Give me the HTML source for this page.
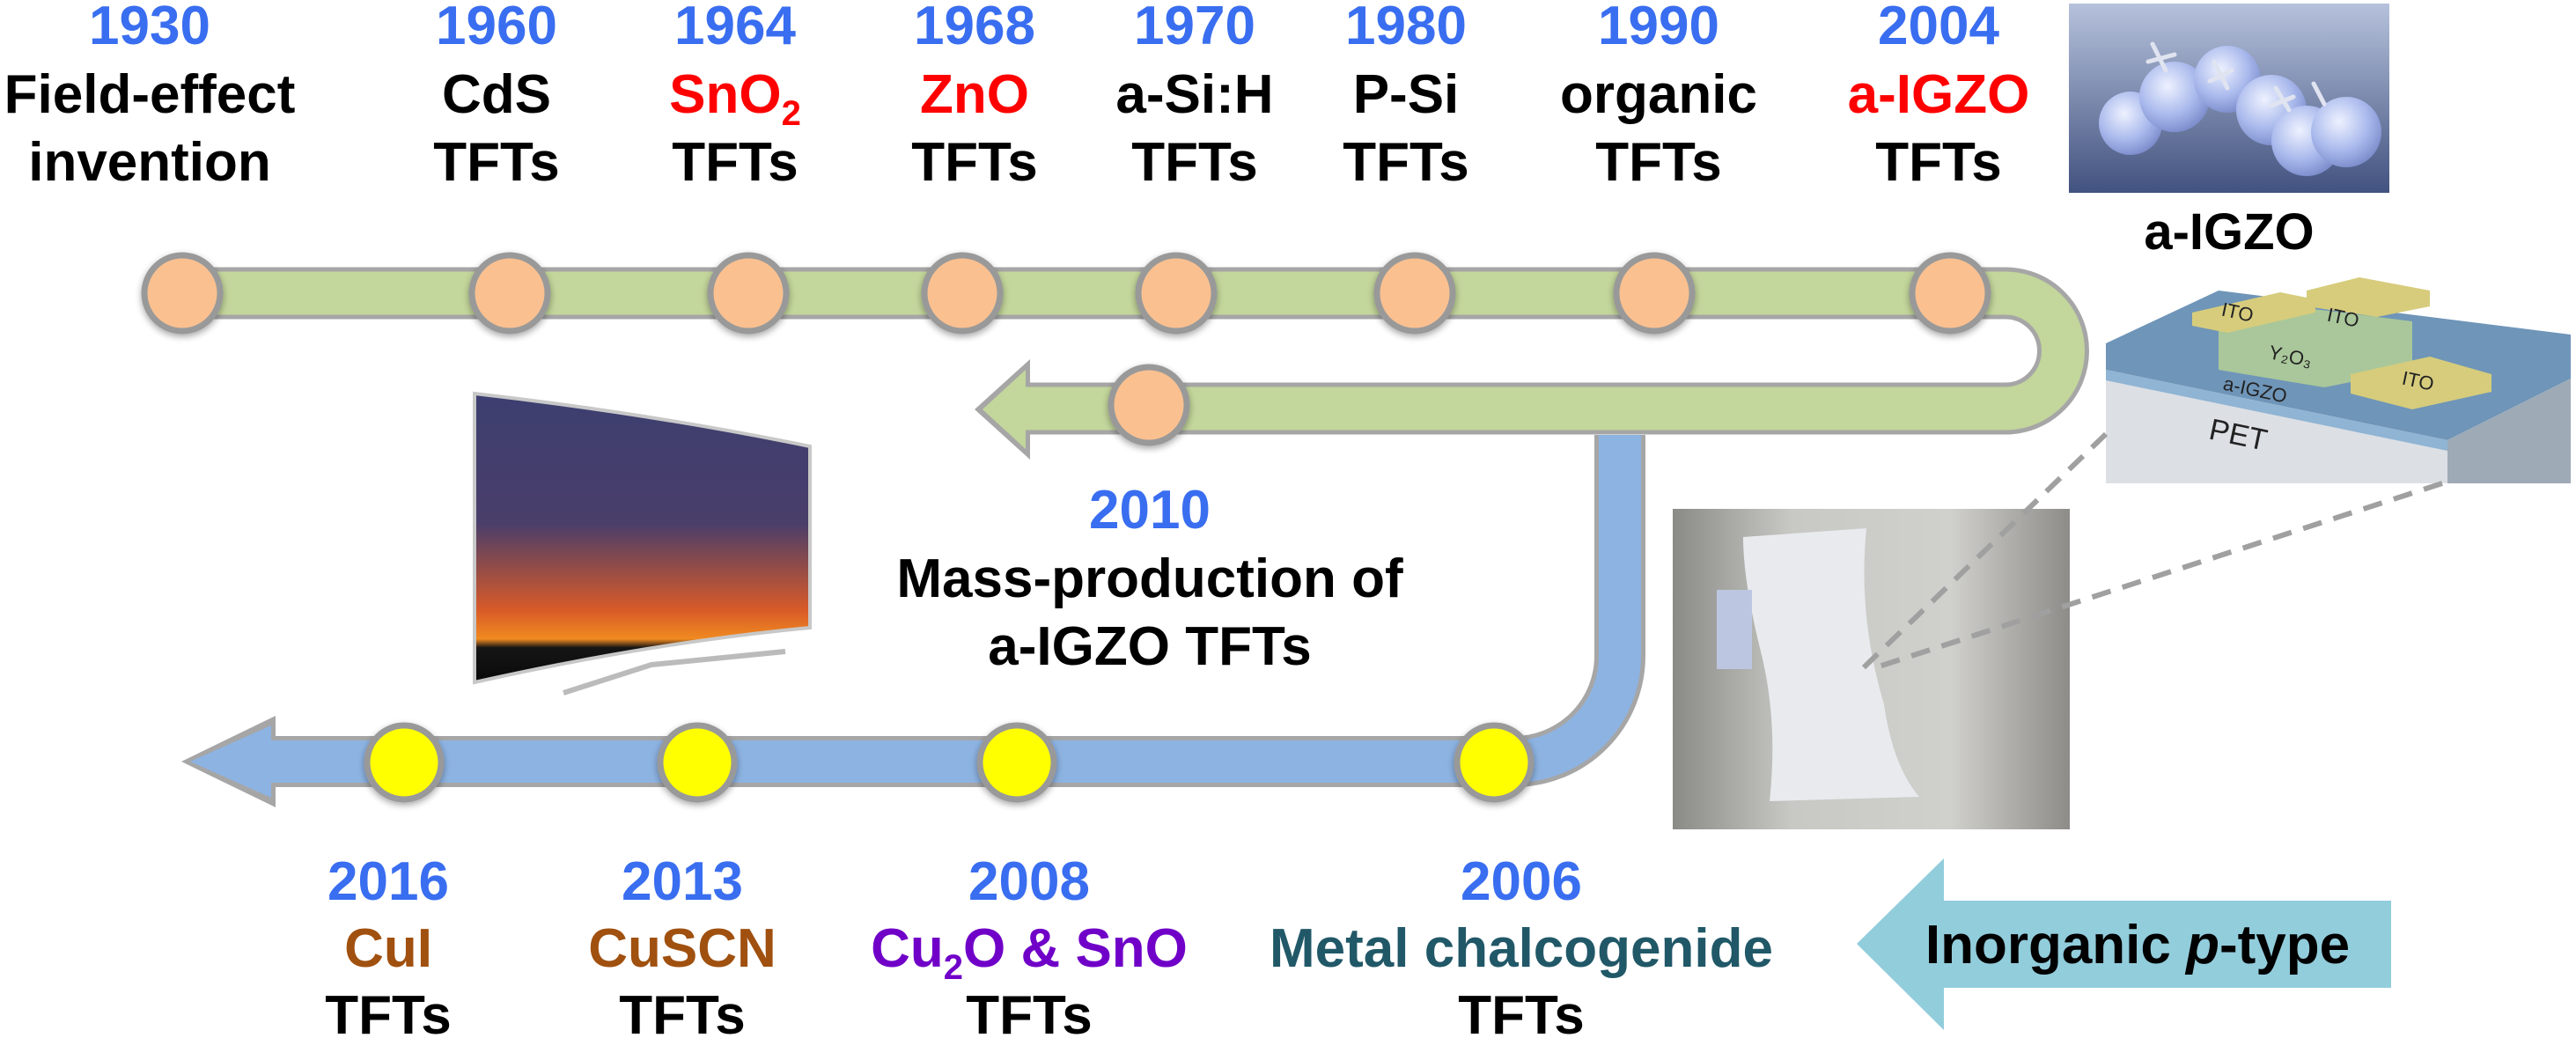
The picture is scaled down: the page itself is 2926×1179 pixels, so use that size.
<!DOCTYPE html>
<html><head><meta charset="utf-8"><style>
html,body{margin:0;padding:0;background:#fff;}
svg{display:block;}
text{font-family:"Liberation Sans",Arial,sans-serif;font-weight:bold;font-size:62px;text-anchor:middle;}
.y{fill:#3a6ef0;} .k{fill:#000;} .r{fill:#ff0000;} .br{fill:#a0500f;} .pu{fill:#7000c8;} .te{fill:#215868;}
.sm{font-size:22px;font-weight:normal;fill:#222;}
</style></head><body>
<svg width="2926" height="1179" viewBox="0 0 2926 1179" xmlns="http://www.w3.org/2000/svg">
<defs>
<linearGradient id="mol" x1="0" y1="0" x2="0" y2="1"><stop offset="0" stop-color="#b6c2dc"/><stop offset="1" stop-color="#42527f"/></linearGradient>
<radialGradient id="sph" cx="0.4" cy="0.35" r="0.7"><stop offset="0" stop-color="#eef2ff"/><stop offset="0.6" stop-color="#a8b8ec"/><stop offset="1" stop-color="#7888c8"/></radialGradient>
<linearGradient id="tv" x1="0" y1="0" x2="0" y2="1"><stop offset="0" stop-color="#3c3f70"/><stop offset="0.45" stop-color="#4a3e6a"/><stop offset="0.75" stop-color="#d85a28"/><stop offset="0.85" stop-color="#f08a20"/><stop offset="0.88" stop-color="#151515"/><stop offset="1" stop-color="#0a0a0a"/></linearGradient>
<linearGradient id="ph" x1="0" y1="0" x2="1" y2="0"><stop offset="0" stop-color="#8a8a86"/><stop offset="0.3" stop-color="#c8c8c4"/><stop offset="0.7" stop-color="#d0d0cc"/><stop offset="1" stop-color="#8e8c88"/></linearGradient>
<filter id="sh" x="-30%" y="-30%" width="160%" height="160%"><feGaussianBlur in="SourceAlpha" stdDeviation="4"/><feOffset dy="3"/><feComponentTransfer><feFuncA type="linear" slope="0.35"/></feComponentTransfer><feMerge><feMergeNode/><feMergeNode in="SourceGraphic"/></feMerge></filter>
</defs>

<!-- top labels -->
<text class="y" x="170" y="50">1930</text><text class="k" x="170" y="128">Field-effect</text><text class="k" x="170" y="205">invention</text>
<text class="y" x="564" y="50">1960</text><text class="k" x="564" y="128">CdS</text><text class="k" x="564" y="205">TFTs</text>
<text class="y" x="835" y="50">1964</text><text class="r" x="835" y="128">SnO<tspan style="font-size:40px" dy="14">2</tspan></text><text class="k" x="835" y="205">TFTs</text>
<text class="y" x="1107" y="50">1968</text><text class="r" x="1107" y="128">ZnO</text><text class="k" x="1107" y="205">TFTs</text>
<text class="y" x="1357" y="50">1970</text><text class="k" x="1357" y="128">a-Si:H</text><text class="k" x="1357" y="205">TFTs</text>
<text class="y" x="1597" y="50">1980</text><text class="k" x="1597" y="128">P-Si</text><text class="k" x="1597" y="205">TFTs</text>
<text class="y" x="1884" y="50">1990</text><text class="k" x="1884" y="128">organic</text><text class="k" x="1884" y="205">TFTs</text>
<text class="y" x="2202" y="50">2004</text><text class="r" x="2202" y="128">a-IGZO</text><text class="k" x="2202" y="205">TFTs</text>

<!-- molecule image -->
<rect x="2350" y="4" width="364" height="215" fill="url(#mol)"/>
<g fill="url(#sph)">
<circle cx="2420" cy="140" r="36"/><circle cx="2470" cy="110" r="40"/><circle cx="2530" cy="90" r="38"/><circle cx="2580" cy="125" r="40"/><circle cx="2620" cy="160" r="40"/><circle cx="2665" cy="150" r="40"/>
</g>
<g stroke="#e0e4f0" stroke-width="5" stroke-linecap="round">
<path d="M2445 50 L2460 80 M2440 70 L2470 62"/><path d="M2515 70 L2530 100 M2510 92 L2535 80"/><path d="M2585 100 L2600 125 M2580 120 L2605 110"/><path d="M2628 95 L2640 118"/>
</g>
<text class="k" x="2532" y="283" style="font-size:58px">a-IGZO</text>

<!-- device -->
<polygon points="2392,390 2520,330 2920,380 2920,430 2780,500 2392,420" fill="#6f95b8"/>
<polygon points="2392,420 2780,500 2780,549 2392,549" fill="#dcdfe4"/>
<polygon points="2780,500 2920,430 2920,549 2780,549" fill="#9eaab6"/>
<polygon points="2392,420 2780,500 2780,512 2392,432" fill="#8fb4d4"/>
<polygon points="2520,375 2620,350 2740,365 2740,420 2640,440 2520,420" fill="#a9c79a"/>
<polygon points="2490,355 2590,332 2630,340 2630,355 2530,378 2490,370" fill="#d6cc7c"/>
<polygon points="2620,330 2680,315 2760,330 2760,348 2700,360 2620,348" fill="#d6cc7c"/>
<polygon points="2670,425 2760,405 2830,425 2830,445 2740,465 2670,447" fill="#d6cc7c"/>
<text class="sm" x="2540" y="362" transform="rotate(12 2540 362)">ITO</text>
<text class="sm" x="2660" y="368" transform="rotate(12 2660 368)">ITO</text>
<text class="sm" x="2745" y="440" transform="rotate(12 2745 440)">ITO</text>
<text class="sm" x="2600" y="412" transform="rotate(12 2600 412)">Y₂O₃</text>
<text class="sm" x="2560" y="450" transform="rotate(12 2560 450)">a-IGZO</text>
<text class="sm" x="2540" y="505" style="font-size:34px" transform="rotate(12 2540 505)">PET</text>

<!-- photo -->
<rect x="1900" y="578" width="451" height="364" fill="url(#ph)"/>
<path d="M1980 610 L2120 600 Q2110 700 2140 800 Q2150 870 2180 905 L2010 910 Q2020 820 2000 740 Q1980 660 1980 610Z" fill="#e8eaee"/>
<g fill="#bcc6e0"><rect x="1950" y="670" width="40" height="90"/></g>

<!-- dashed lines -->
<g stroke="#a0a0a0" stroke-width="6" stroke-dasharray="22,14" fill="none">
<line x1="2392" y1="493" x2="2115" y2="760"/>
<line x1="2774" y1="549" x2="2125" y2="760"/>
</g>

<!-- TV -->
<path d="M539 447 Q740 470 920 507 L920 713 Q740 730 539 775 Z" fill="url(#tv)" stroke="#c8c8c8" stroke-width="4"/>
<path d="M640 787 L740 755 L892 740" stroke="#bbb" stroke-width="6" fill="none"/>

<!-- green band -->
<path d="M207 333 H2278 A65.5 65.5 0 0 1 2278 464 H1165" stroke="#a6a6a6" stroke-width="59" fill="none"/>
<polygon points="1107,465 1170,408 1170,522" fill="#a6a6a6"/>
<path d="M207 333 H2278 A65.5 65.5 0 0 1 2278 464 H1160" stroke="#c3d69b" stroke-width="49" fill="none"/>
<polygon points="1116,465 1165,420 1165,510" fill="#c3d69b"/>

<!-- blue band -->
<path d="M1840 494 V745 A120 120 0 0 1 1720 865 H308" stroke="#a6a6a6" stroke-width="58" fill="none"/>
<polygon points="206,865 313,813 313,917" fill="#a6a6a6"/>
<path d="M1840 494 V745 A120 120 0 0 1 1720 865 H305" stroke="#8db3e2" stroke-width="48" fill="none"/>
<polygon points="216,865 308,824 308,906" fill="#8db3e2"/>

<!-- circles -->
<g fill="#fac090" stroke="#999" stroke-width="7" filter="url(#sh)">
<circle cx="207" cy="333" r="43"/><circle cx="579" cy="333" r="43"/><circle cx="850" cy="333" r="43"/><circle cx="1093" cy="333" r="43"/>
<circle cx="1336" cy="333" r="43"/><circle cx="1607" cy="333" r="43"/><circle cx="1879" cy="333" r="43"/><circle cx="2215" cy="333" r="43"/>
<circle cx="1305" cy="460" r="43"/>
</g>
<g fill="#ffff00" stroke="#999" stroke-width="7" filter="url(#sh)">
<circle cx="459" cy="866" r="42"/><circle cx="792" cy="866" r="42"/><circle cx="1155" cy="866" r="42"/><circle cx="1697" cy="866" r="42"/>
</g>

<!-- 2010 label -->
<text class="y" x="1306" y="600">2010</text>
<text class="k" x="1306" y="678">Mass-production of</text>
<text class="k" x="1306" y="755">a-IGZO TFTs</text>

<!-- bottom labels -->
<text class="y" x="441" y="1022">2016</text><text class="br" x="441" y="1098">CuI</text><text class="k" x="441" y="1174">TFTs</text>
<text class="y" x="775" y="1022">2013</text><text class="br" x="775" y="1098">CuSCN</text><text class="k" x="775" y="1174">TFTs</text>
<text class="y" x="1169" y="1022">2008</text><text class="pu" x="1169" y="1098">Cu<tspan style="font-size:40px" dy="14">2</tspan><tspan dy="-14">O &amp; SnO</tspan></text><text class="k" x="1169" y="1174">TFTs</text>
<text class="y" x="1728" y="1022">2006</text><text class="te" x="1728" y="1098">Metal chalcogenide</text><text class="k" x="1728" y="1174">TFTs</text>

<!-- inorganic arrow -->
<polygon points="2109,1072 2208,975 2208,1023 2716,1023 2716,1122 2208,1122 2208,1170" fill="#92cddc"/>
<text class="k" x="2428" y="1094">Inorganic <tspan font-style="italic">p</tspan>-type</text>
</svg>
</body></html>
